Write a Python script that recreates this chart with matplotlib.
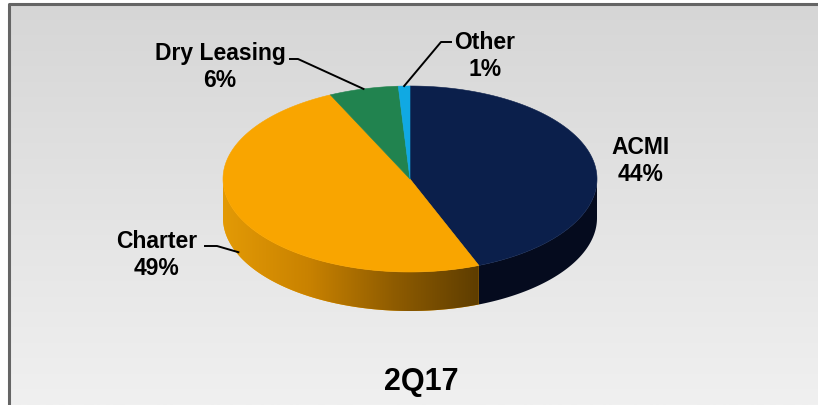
import numpy as np
import matplotlib
matplotlib.use("Agg")
import matplotlib.pyplot as plt
from matplotlib.patches import Polygon
from matplotlib.colors import LinearSegmentedColormap

plt.rcParams['font.family'] = ['Liberation Sans', 'DejaVu Sans']

# data
labels = ["ACMI", "Charter", "Dry Leasing", "Other"]
shares = [44, 49, 6, 1]
colors = ["#0B1F4B", "#F9A500", "#21834F", "#10A9E3"]
side_colors = ["#050B1E", None, "#155833", "#0A7199"]
title = "2Q17"

# pie geometry (pixels)
cx, cy = 410, 180
a, b = 187, 93
depth = 39

fig = plt.figure(figsize=(8.18, 4.06), dpi=100)
ax = fig.add_axes([0, 0, 1, 1])
ax.set_xlim(0, 818)
ax.set_ylim(406, 0)
ax.axis("off")

# background: white margin, gray frame, vertical gradient
grad = np.linspace(0, 1, 256).reshape(-1, 1)
bg = LinearSegmentedColormap.from_list("bg", ["#D6D6D6", "#F0F0F0"])
ax.add_patch(plt.Rectangle((0, 0), 818, 406, color="white", zorder=0))
ax.imshow(grad, cmap=bg, extent=(9, 818, 406, 5), aspect="auto", zorder=1)
ax.plot([9, 9, 818], [406, 5, 5], color="#656565", lw=2.2, zorder=2,
        solid_capstyle="butt")


def pt(t, dy=0.0):
    # t in degrees, clockwise from 12 o'clock
    r = np.radians(t)
    return cx + a * np.sin(r), cy - b * np.cos(r) + dy


edges = np.concatenate([[0], np.cumsum(shares)]) / sum(shares) * 360
orange_side = LinearSegmentedColormap.from_list(
    "os", ["#E39A06", "#C98200", "#8F5C00", "#5E3D00"])

# side walls (only the front half is visible)
for i in range(len(shares)):
    t0, t1 = max(edges[i], 90), min(edges[i + 1], 270)
    if t1 <= t0:
        continue
    ts = np.linspace(t0, t1, 200)
    top = np.array([pt(t) for t in ts])
    bot = np.array([pt(t, depth) for t in ts[::-1]])
    poly = Polygon(np.vstack([top, bot]), closed=True, zorder=3,
                   facecolor=side_colors[i] or colors[i], edgecolor="none")
    ax.add_patch(poly)
    if side_colors[i] is None:
        xs = top[:, 0]
        im = ax.imshow(np.linspace(0, 1, 256).reshape(1, -1),
                       cmap=orange_side,
                       extent=(xs.min(), xs.max(), cy + b + depth + 2, cy - 5),
                       aspect="auto", zorder=4)
        im.set_clip_path(poly)

# top face
for i in range(len(shares)):
    ts = np.linspace(edges[i], edges[i + 1], 300)
    arc = np.array([pt(t) for t in ts])
    ax.add_patch(Polygon(np.vstack([[cx, cy], arc]), closed=True, zorder=5,
                         facecolor=colors[i], edgecolor=colors[i], lw=0.4))

# labels
fs = 16.5
txt = dict(fontsize=fs, fontweight="bold", ha="center", va="center",
           linespacing=1.2, zorder=6)
ax.text(641, 161, f"{labels[0]}\n{shares[0]}%", **txt)
ax.text(157, 255, f"{labels[1]}\n{shares[1]}%", **txt)
ax.text(220, 67, f"{labels[2]}\n{shares[2]}%", **txt)
ax.text(485, 56, f"{labels[3]}\n{shares[3]}%", **txt)

# leader lines
mid = (edges[:-1] + edges[1:]) / 2
lk = dict(color="black", lw=1.4, zorder=6)
x2, y2 = pt(mid[2])
ax.plot([290, 298, x2], [60, 60, y2], **lk)
x3, y3 = pt(mid[3])
ax.plot([451, 441, x3], [43, 43, y3], **lk)
x1, y1 = pt(mid[1], depth * 0.93)
ax.plot([205, 217, x1], [247, 247, y1], **lk)

ax.text(421, 382, title, fontsize=22, fontweight="bold", ha="center",
        va="center", zorder=6)

fig.savefig("out.png", dpi=100)
